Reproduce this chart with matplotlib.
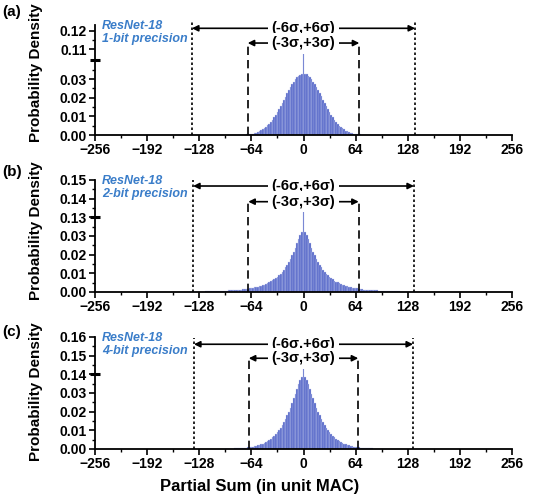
import numpy as np
import matplotlib
matplotlib.use('Agg')
import matplotlib.pyplot as plt
from matplotlib.ticker import FixedLocator

plt.rcParams['font.family'] = ['Liberation Sans', 'DejaVu Sans']
plt.rcParams['font.weight'] = 'bold'

# ---- data (probability per 2-unit bin) ----
centers_a = np.arange(-80, 81, 2)
density_a = [
    .0001, .0001, .0001, .0002, .0002, .0003, .0004, .0005, .0006, .0008,
    .0010, .0013, .0016, .0020, .0025, .0030, .0036, .0043, .0052, .0061,
    .0071, .0083, .0096, .0109, .0124, .0139, .0155, .0172, .0189, .0206,
    .0224, .0241, .0257, .0272, .0286, .0299, .0309, .0318, .0324, .0328,
    .112,
    .0329, .0325, .0319, .0310, .0300, .0287, .0273, .0258, .0242, .0225,
    .0207, .0190, .0172, .0155, .0139, .0123, .0109, .0095, .0082, .0071,
    .0060, .0051, .0043, .0036, .0030, .0024, .0020, .0016, .0013, .0010,
    .0008, .0006, .0005, .0004, .0003, .0002, .0002, .0001, .0001, .0001]

centers_b = np.arange(-140, 141, 2)
density_b = [
    .0001, .0001, .0001, .0001, .0001, .0002, .0002, .0002, .0002, .0002,
    .0003, .0003, .0003, .0003, .0004, .0004, .0004, .0005, .0005, .0005,
    .0006, .0006, .0007, .0007, .0008, .0008, .0009, .0009, .0010, .0011,
    .0011, .0012, .0013, .0014, .0015, .0016, .0018, .0019, .0021, .0023,
    .0025, .0027, .0029, .0031, .0034, .0037, .0040, .0044, .0048, .0052,
    .0057, .0062, .0068, .0074, .0081, .0089, .0098, .0108, .0119, .0132,
    .0146, .0161, .0178, .0196, .0216, .0238, .0260, .0282, .0303, .0322,
    .1385,
    .0322, .0303, .0282, .0260, .0238, .0216, .0196, .0178, .0161, .0146,
    .0132, .0119, .0108, .0098, .0089, .0080, .0073, .0067, .0061, .0056,
    .0051, .0047, .0043, .0039, .0036, .0033, .0030, .0028, .0026, .0024,
    .0022, .0020, .0019, .0017, .0016, .0014, .0013, .0012, .0011, .0010,
    .0010, .0009, .0009, .0008, .0008, .0007, .0007, .0006, .0006, .0005,
    .0005, .0005, .0004, .0004, .0004, .0003, .0003, .0003, .0003, .0002,
    .0002, .0002, .0002, .0002, .0001, .0001, .0001, .0001, .0001, .0001]

centers_c = np.arange(-96, 97, 2)
density_c = [
    .0001, .0001, .0001, .0002, .0002, .0002, .0003, .0003, .0004, .0004,
    .0005, .0006, .0007, .0008, .0009, .0010, .0012, .0013, .0015, .0017,
    .0019, .0022, .0025, .0029, .0033, .0037, .0042, .0048, .0055, .0062,
    .0070, .0080, .0090, .0102, .0115, .0129, .0145, .0162, .0180, .0200,
    .0222, .0246, .0271, .0297, .0322, .0347, .0368, .0385,
    .1467,
    .0385, .0368, .0347, .0322, .0297, .0271, .0246, .0222,
    .0200, .0180, .0162, .0145, .0129, .0115, .0102, .0090, .0080, .0070,
    .0062, .0055, .0048, .0042, .0037, .0033, .0029, .0025, .0022, .0019,
    .0017, .0015, .0013, .0012, .0010, .0009, .0008, .0007, .0006, .0005,
    .0004, .0004, .0003, .0003, .0002, .0002, .0002, .0001, .0001, .0001]

panel_tags = ['(a)', '(b)', '(c)']
precisions = ['1-bit precision', '2-bit precision', '4-bit precision']
sigma3 = [68.5, 67.8, 67.2]
sigma6 = [137, 135.6, 134.5]
break_at = [0.104, 0.13, 0.14]
y_top = [0.123, 0.15, 0.16]
upper_ticks = [[0.11, 0.12], [0.13, 0.14, 0.15], [0.14, 0.15, 0.16]]
lower_ticks = [0.00, 0.01, 0.02, 0.03]
x_ticks = [-256, -192, -128, -64, 0, 64, 128, 192, 256]

bar_color = '#5163c6'
text_blue = '#3a7dc9'
lo = 0.04


def broken(b):
    def fwd(y):
        y = np.asarray(y, dtype=float)
        return np.where(y <= lo, y, np.where(y >= b, y - b + lo, lo))

    def inv(u):
        u = np.asarray(u, dtype=float)
        return np.where(u <= lo, u, u - lo + b)
    return fwd, inv


fig = plt.figure(figsize=(5.42, 5.01), dpi=100)
rects = [[0.1753, 0.7305, 0.7694, 0.2196],
         [0.1753, 0.4172, 0.7694, 0.2236],
         [0.1753, 0.1038, 0.7694, 0.2236]]
label_y = [0.57, 0.545, 0.51]
tag_y = [12, 172, 332]
six_y = [0.97, 0.946, 0.935]
three_y = [0.836, 0.806, 0.81]
three_top = [0.85, 0.82, 0.82]
six_top = [1.04, 1.0, 0.99]

data = [(centers_a, density_a), (centers_b, density_b), (centers_c, density_c)]

for i in range(3):
    ax = fig.add_axes(rects[i])
    ax.set_yscale('function', functions=broken(break_at[i]))
    x, h = data[i]
    ax.bar(x, h, width=2, color=bar_color, edgecolor='#c9cff0', linewidth=0.25)
    ax.set_xlim(-256, 256)
    ax.set_ylim(0, y_top[i])

    for s in ['top', 'right']:
        ax.spines[s].set_visible(False)
    for s in ['left', 'bottom']:
        ax.spines[s].set_linewidth(1.3)

    ax.set_xticks(x_ticks)
    ax.xaxis.set_minor_locator(FixedLocator(np.arange(-224, 256, 64)))
    yt = lower_ticks + upper_ticks[i]
    ax.yaxis.set_major_locator(FixedLocator(yt))
    ax.yaxis.set_minor_locator(FixedLocator([0.005, 0.015, 0.025, 0.035]
                                            + [t + 0.005 for t in upper_ticks[i][:-1]]))
    ax.set_yticklabels(['%.2f' % t for t in yt])
    ax.tick_params(which='major', direction='out', length=4, width=1.2, labelsize=10, pad=2)
    ax.tick_params(which='minor', direction='out', length=2.5, width=1.0)
    for lab in ax.get_xticklabels() + ax.get_yticklabels():
        lab.set_fontweight('bold')

    ax.set_ylabel('Probability Density', fontsize=11, fontweight='bold')
    ax.yaxis.set_label_coords(-0.125, label_y[i])

    # break mark on the y axis
    ax.plot([-0.012, 0.012], [break_at[i], break_at[i]], color='k', lw=2.2,
            transform=ax.get_yaxis_transform(), clip_on=False, solid_capstyle='butt')

    tr = ax.get_xaxis_transform()
    for sx in (-sigma6[i], sigma6[i]):
        ax.plot([sx, sx], [0, six_top[i]], color='k', lw=1.2, ls=(0, (1.5, 1.5)),
                transform=tr, clip_on=False)
    for sx in (-sigma3[i], sigma3[i]):
        ax.plot([sx, sx], [0, three_top[i]], color='k', lw=1.2, ls=(0, (5, 3)),
                transform=tr, clip_on=False)

    ax.annotate('', xy=(-sigma6[i], six_y[i]), xytext=(sigma6[i], six_y[i]), xycoords=tr,
                arrowprops=dict(arrowstyle='<|-|>', color='k', lw=1.2, mutation_scale=9,
                                shrinkA=0, shrinkB=0), annotation_clip=False)
    ax.text(0, six_y[i], '(-6\u03c3,+6\u03c3)', transform=tr, ha='center', va='center',
            fontsize=10.5, fontweight='bold',
            bbox=dict(facecolor='white', edgecolor='none', pad=2.5))
    ax.annotate('', xy=(-sigma3[i], three_y[i]), xytext=(sigma3[i], three_y[i]), xycoords=tr,
                arrowprops=dict(arrowstyle='<|-|>', color='k', lw=1.2, mutation_scale=9,
                                shrinkA=0, shrinkB=0), annotation_clip=False)
    ax.text(0, three_y[i], '(-3\u03c3,+3\u03c3)', transform=tr, ha='center', va='center',
            fontsize=10.5, fontweight='bold',
            bbox=dict(facecolor='white', edgecolor='none', pad=2.5))

    ax.text(0.017, 1.045, 'ResNet-18\n' + precisions[i], transform=ax.transAxes,
            ha='left', va='top', color=text_blue, fontsize=9, fontweight='bold',
            style='italic', linespacing=1.15)

    fig.text(0.004, 1 - tag_y[i] / 501, panel_tags[i], ha='left', va='center',
             fontsize=11, fontweight='bold')

fig.text(260 / 542, 1 - 487 / 501, 'Partial Sum (in unit MAC)', ha='center', va='center',
         fontsize=12, fontweight='bold')

fig.savefig('out.png', dpi=100)
